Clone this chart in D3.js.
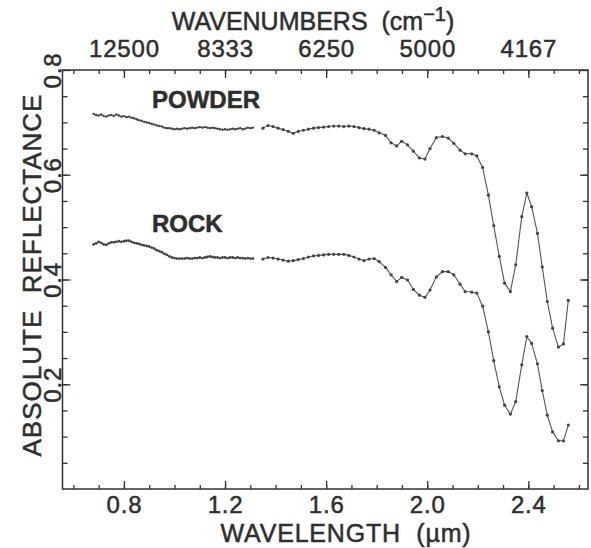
<!DOCTYPE html>
<html>
<head>
<meta charset="utf-8">
<script src="https://cdnjs.cloudflare.com/ajax/libs/d3/7.8.5/d3.min.js"></script>
<style>
  body { margin: 0; background: #fff; }
  svg text { font-family: "Liberation Sans", Arial, sans-serif; fill: #2e2e2e;
             stroke: #2e2e2e; stroke-width: 0.5px; }
  .axis path { display: none; }
  .axis line { stroke: #333; stroke-width: 1.3; }
</style>
</head>
<body>
<svg id="chart" width="591" height="548"></svg>
<script>
// first spectrometer segment (dense sampling)
const wlShort = [0.68,0.69,0.70,0.71,0.72,0.73,0.74,0.75,0.76,0.77,0.78,0.79,0.80,0.81,0.82,0.83,
  0.84,0.85,0.86,0.87,0.88,0.89,0.90,0.91,0.92,0.93,0.94,0.95,0.96,0.97,0.98,0.99,1.00,1.01,1.02,
  1.03,1.04,1.05,1.06,1.07,1.08,1.09,1.10,1.11,1.12,1.13,1.14,1.15,1.16,1.17,1.18,1.19,1.20,1.21,
  1.22,1.23,1.24,1.25,1.26,1.27,1.28,1.29,1.30,1.31]
const powderShort = [0.716,0.714,0.713,0.715,0.712,0.711,0.713,0.714,0.712,0.715,0.713,0.711,0.712,
  0.710,0.711,0.709,0.708,0.706,0.704,0.703,0.701,0.700,0.699,0.697,0.696,0.694,0.693,0.692,0.690,
  0.689,0.689,0.688,0.687,0.688,0.687,0.688,0.689,0.688,0.689,0.690,0.689,0.690,0.691,0.690,0.691,
  0.690,0.689,0.690,0.689,0.688,0.687,0.686,0.687,0.686,0.687,0.688,0.687,0.688,0.689,0.687,0.688,
  0.690,0.689,0.690]
const rockShort = [0.467,0.469,0.472,0.470,0.467,0.466,0.469,0.471,0.471,0.472,0.473,0.472,0.473,
  0.474,0.474,0.472,0.470,0.469,0.468,0.466,0.465,0.464,0.463,0.461,0.459,0.456,0.454,0.452,0.449,
  0.447,0.444,0.442,0.441,0.440,0.440,0.440,0.440,0.441,0.440,0.440,0.441,0.441,0.442,0.441,0.442,
  0.443,0.444,0.443,0.442,0.442,0.441,0.442,0.442,0.441,0.442,0.442,0.441,0.442,0.441,0.441,0.440,
  0.441,0.440,0.440]

// second spectrometer segment
const wlLong = [1.35,1.37,1.39,1.41,1.43,1.45,1.47,1.49,1.51,1.53,1.55,1.57,1.59,1.61,1.63,1.65,
  1.67,1.69,1.71,1.73,1.75,1.77,1.79,1.81,1.835,1.857,1.879,1.899,1.922,1.945,1.969,1.991,2.011,
  2.036,2.06,2.083,2.105,2.13,2.15,2.176,2.196,2.219,2.242,2.263,2.285,2.306,2.329,2.35,2.374,
  2.394,2.413,2.436,2.455,2.475,2.496,2.519,2.539,2.558]
const powderLong = [0.689,0.694,0.692,0.689,0.686,0.683,0.679,0.683,0.685,0.687,0.689,0.690,0.691,
  0.692,0.693,0.693,0.692,0.693,0.692,0.690,0.688,0.687,0.685,0.680,0.675,0.661,0.655,0.664,0.657,
  0.645,0.632,0.630,0.650,0.671,0.673,0.670,0.660,0.647,0.640,0.640,0.636,0.614,0.561,0.503,0.444,
  0.393,0.377,0.428,0.520,0.565,0.539,0.488,0.424,0.358,0.307,0.271,0.277,0.360]
const rockLong = [0.439,0.442,0.441,0.439,0.437,0.435,0.436,0.438,0.440,0.443,0.445,0.446,0.447,
  0.448,0.448,0.448,0.448,0.446,0.443,0.439,0.436,0.439,0.440,0.434,0.423,0.409,0.396,0.404,0.399,
  0.381,0.370,0.366,0.380,0.405,0.415,0.415,0.409,0.391,0.377,0.376,0.374,0.349,0.300,0.245,0.195,
  0.160,0.143,0.167,0.237,0.291,0.278,0.239,0.188,0.141,0.109,0.092,0.092,0.122]

const xMajor = [0.8, 1.2, 1.6, 2.0, 2.4]
const wavenumberLabels = ["12500", "8333", "6250", "5000", "4167"]
const yMajor = [0.2, 0.4, 0.6, 0.8]

const svg = d3.select("#chart")
const plotLeft = 62.5, plotRight = 588, plotTop = 70, plotBottom = 489

const x = d3.scaleLinear().domain([0.557, 2.636]).range([plotLeft, plotRight])
const y = d3.scaleLinear().domain([0, 0.8]).range([plotBottom, plotTop])

const xMinor = d3.range(6, 27).map(d => d / 10)
const yMinor = d3.range(1, 16).map(d => d / 20)

// frame
svg.append("rect")
    .attr("x", plotLeft).attr("y", plotTop)
    .attr("width", plotRight - plotLeft).attr("height", plotBottom - plotTop)
    .attr("fill", "none").attr("stroke", "#333").attr("stroke-width", 1.5)

function addAxis(axis, tx, ty) {
  return svg.append("g").attr("class", "axis")
      .attr("transform", `translate(${tx},${ty})`)
      .call(axis)
}

// bottom
addAxis(d3.axisBottom(x).tickValues(xMinor).tickSize(-4).tickFormat(""), 0, plotBottom)
addAxis(d3.axisBottom(x).tickValues(xMajor).tickSize(-8).tickPadding(7)
    .tickFormat(d3.format(".1f")), 0, plotBottom)
  .selectAll("text").style("font-size", "24px").style("letter-spacing", "0.8px")

// top, labelled with wavenumbers
addAxis(d3.axisTop(x).tickValues(xMinor).tickSize(-4).tickFormat(""), 0, plotTop)
addAxis(d3.axisTop(x).tickValues(xMajor).tickSize(-8).tickPadding(13)
    .tickFormat((d, i) => wavenumberLabels[i]), 0, plotTop)
  .selectAll("text").style("font-size", "24px").style("letter-spacing", "0.8px")

// left
addAxis(d3.axisLeft(y).tickValues(yMinor).tickSize(-5).tickFormat(""), plotLeft, 0)
addAxis(d3.axisLeft(y).tickValues(yMajor).tickSize(-8).tickFormat(d3.format(".1f")), plotLeft, 0)
  .selectAll("text")
    .style("font-size", "24px")
    .style("letter-spacing", "0.8px")
    .attr("transform", "rotate(-90)")
    .attr("text-anchor", "middle")
    .attr("x", 0).attr("y", -2).attr("dy", "0")

// right
addAxis(d3.axisRight(y).tickValues(yMinor).tickSize(-5).tickFormat(""), plotRight, 0)
addAxis(d3.axisRight(y).tickValues(yMajor).tickSize(-8).tickFormat(""), plotRight, 0)

// axis titles
svg.append("text")
    .attr("x", 313).attr("y", 29.5)
    .attr("text-anchor", "middle")
    .style("font-size", "25px").style("white-space", "pre")
    .call(t => {
      t.append("tspan").text("WAVENUMBERS  (cm")
      t.append("tspan").attr("dy", -9).style("font-size", "20px").text("\u22121")
      t.append("tspan").attr("dy", 9).text(")")
    })

svg.append("text")
    .attr("x", 346).attr("y", 542)
    .attr("text-anchor", "middle")
    .style("font-size", "25px").style("white-space", "pre")
    .style("letter-spacing", "0.8px")
    .text("WAVELENGTH  (\u00b5m)")

svg.append("text")
    .attr("transform", "translate(41,275) rotate(-90)")
    .attr("text-anchor", "middle")
    .style("font-size", "26px").style("white-space", "pre")
    .style("letter-spacing", "1px")
    .text("ABSOLUTE  REFLECTANCE")

// series
const line = d3.line()
    .x(d => x(d[0]))
    .y(d => y(d[1]))

const segments = [
  { wl: wlShort, r: powderShort, dot: 1.2 },
  { wl: wlLong, r: powderLong, dot: 1.6 },
  { wl: wlShort, r: rockShort, dot: 1.4 },
  { wl: wlLong, r: rockLong, dot: 1.6 }
]

segments.forEach(function(s) {
  const pts = s.wl.map((w, i) => [w, s.r[i]])
  svg.append("path")
      .datum(pts)
      .attr("fill", "none")
      .attr("stroke", "#555")
      .attr("stroke-width", 1.1)
      .attr("d", line)
  svg.append("g").selectAll("circle")
      .data(pts)
      .enter().append("circle")
        .attr("cx", d => x(d[0]))
        .attr("cy", d => y(d[1]))
        .attr("r", s.dot)
        .attr("fill", "#444")
})

// series labels
svg.append("text")
    .attr("x", 152).attr("y", 108)
    .style("font-size", "24px").style("font-weight", "bold")
    .text("POWDER")

svg.append("text")
    .attr("x", 152).attr("y", 231.5)
    .style("font-size", "24px").style("font-weight", "bold")
    .text("ROCK")
</script>
</body>
</html>
